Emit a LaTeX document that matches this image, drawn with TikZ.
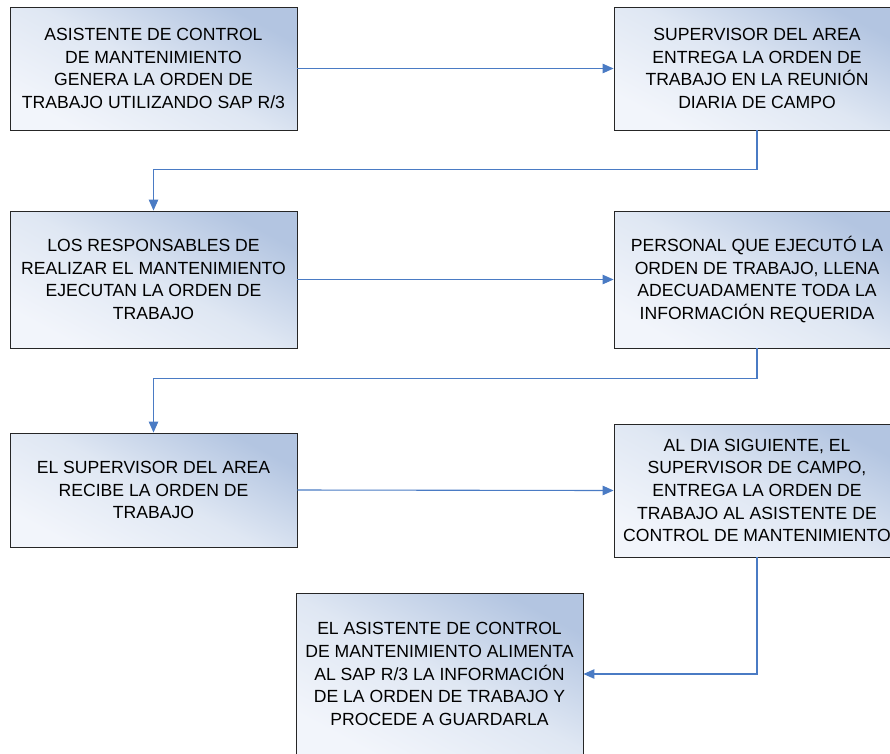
\documentclass[tikz,border=0pt]{standalone}
\usepackage{fontspec}
\setmainfont{Liberation Sans}
\usetikzlibrary{arrows.meta}
\definecolor{boxlight}{HTML}{F2F5FB}
\definecolor{boxmid}{HTML}{DFE7F3}
\definecolor{boxdark}{HTML}{B3C5E1}
\definecolor{linkblue}{HTML}{4A7BC4}
\tikzset{
  stepbox/.style={draw=black!85, line width=0.9pt, top color=boxdark, bottom color=boxlight, middle color=boxmid, shading angle=-28,
    inner sep=0pt, align=center, font=\fontsize{17.6}{22.6}\selectfont, text=black},
  link/.style={draw=linkblue, line width=1.1pt, -{Triangle[length=11pt,width=9.5pt]}}
}
\begin{document}
\begin{tikzpicture}[x=1pt,y=1pt]
\clip (0,0) rectangle (890,-753);
\fill[white] (0,0) rectangle (890,-753);
\node[stepbox, minimum width=287, minimum height=123] (b1) at (153.5,-68.5)
  {ASISTENTE DE CONTROL\\DE MANTENIMIENTO\\GENERA LA ORDEN DE\\TRABAJO UTILIZANDO SAP R/3};
\node[stepbox, minimum width=286, minimum height=123] (b2) at (757,-68.5)
  {SUPERVISOR DEL AREA\\ENTREGA LA ORDEN DE\\TRABAJO EN LA REUNIÓN\\DIARIA DE CAMPO};
\node[stepbox, minimum width=287, minimum height=137] (b3) at (153.5,-279.5)
  {LOS RESPONSABLES DE\\REALIZAR EL MANTENIMIENTO\\EJECUTAN LA ORDEN DE\\TRABAJO};
\node[stepbox, minimum width=286, minimum height=137] (b4) at (757,-279.5)
  {PERSONAL QUE EJECUTÓ LA\\ORDEN DE TRABAJO, LLENA\\ADECUADAMENTE TODA LA\\INFORMACIÓN REQUERIDA};
\node[stepbox, minimum width=287, minimum height=114] (b5) at (153.5,-490)
  {EL SUPERVISOR DEL AREA\\RECIBE LA ORDEN DE\\TRABAJO};
\node[stepbox, minimum width=286, minimum height=133] (b6) at (757,-490.5)
  {AL DIA SIGUIENTE, EL\\SUPERVISOR DE CAMPO,\\ENTREGA LA ORDEN DE\\TRABAJO AL ASISTENTE DE\\CONTROL DE MANTENIMIENTO};
\node[stepbox, minimum width=287, minimum height=162] (b7) at (439.5,-674)
  {EL ASISTENTE DE CONTROL\\DE MANTENIMIENTO ALIMENTA\\AL SAP R/3 LA INFORMACIÓN\\DE LA ORDEN DE TRABAJO Y\\PROCEDE A GUARDARLA};
\draw[link] (b1.east) -- (b2.west);
\draw[link] (b2.south) -- ++(0,-39) -| (b3.north);
\draw[link] (b3.east) -- (b4.west);
\draw[link] (b4.south) -- ++(0,-30) -| (b5.north);
\draw[link] (b5.east) -- (b6.west);
\draw[link] (b6.south) |- (b7.east);
\end{tikzpicture}
\end{document}
